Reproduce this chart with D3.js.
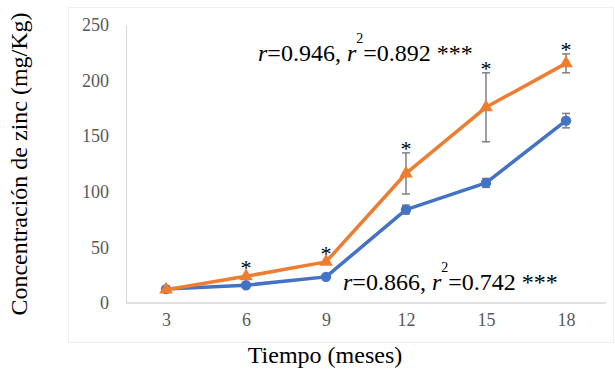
<!DOCTYPE html>
<html>
<head>
<meta charset="UTF-8">
<title>Concentración de zinc</title>
<style>
  body { margin: 0; background: #fff; }
</style>
</head>
<body>
<div id="chart"></div>
<script src="https://d3js.org/d3.v7.min.js"></script>
<script>
// meses
const months = [3, 6, 9, 12, 15, 18];
// serie azul (círculos)
const blueVals = [12.5, 16, 23.5, 84, 108, 164];
const blueErr = [0, 0, 0, 4, 4, 6.5];
// serie naranja (triángulos)
const orangeVals = [12, 24, 37, 116.5, 176, 215.5];
const orangeErr = [0, 0, 0, 18.5, 31, 8.5];
// asteriscos de significancia
const starred = [false, true, true, true, true, true];
const yTicks = [0, 50, 100, 150, 200, 250];

const FONT = '"Liberation Serif", "Times New Roman", Tinos';
const W = 615, H = 374;
const svg = d3.select("#chart").append("svg")
  .attr("width", W).attr("height", H)
  .style("font-family", FONT);

// marco del gráfico
svg.append("rect")
  .attr("x", 68.5).attr("y", 7.5).attr("width", 545).attr("height", 335)
  .attr("fill", "none").attr("stroke", "#efefef");

const plotL = 126, plotR = 606, plotT = 25, plotB = 303;
const x = d3.scalePoint().domain(months).range([plotL, plotR]).padding(0.5);
const y = d3.scaleLinear().domain([0, 250]).range([plotB, plotT]);

// ejes
const yAxis = svg.append("g").attr("transform", `translate(${plotL},0)`)
  .call(d3.axisLeft(y).tickValues(yTicks).tickSize(0).tickPadding(17));
yAxis.select(".domain").attr("stroke", "#d9d9d9");

const xAxis = svg.append("g").attr("transform", `translate(0,${plotB})`)
  .call(d3.axisBottom(x).tickSize(0).tickPadding(10));
xAxis.select(".domain").attr("stroke", "#d9d9d9").attr("stroke-width", 1.5)
  .attr("d", `M${plotL},0H${plotR}`);
svg.selectAll(".tick text")
  .style("font-family", FONT).attr("font-size", 18).attr("fill", "#595959");

// títulos
svg.append("text")
  .attr("x", 325).attr("y", 363)
  .attr("text-anchor", "middle").attr("font-size", 24).attr("fill", "#000")
  .style("font-family", FONT)
  .text("Tiempo (meses)");
svg.append("text")
  .attr("transform", "translate(27,164) rotate(-90)")
  .attr("text-anchor", "middle").attr("font-size", 24).attr("fill", "#000")
  .style("font-family", FONT)
  .text("Concentración de zinc (mg/Kg)");

function series(vals, errs, color, shape) {
  const g = svg.append("g");
  // barras de error
  months.forEach((m, i) => {
    if (!errs[i]) return;
    const cx = x(m), y1 = y(vals[i] + errs[i]), y2 = y(vals[i] - errs[i]);
    g.append("line").attr("x1", cx).attr("x2", cx).attr("y1", y1).attr("y2", y2)
      .attr("stroke", "#7f7f7f").attr("stroke-width", 1.5);
    [y1, y2].forEach(yy => g.append("line")
      .attr("x1", cx - 4).attr("x2", cx + 4).attr("y1", yy).attr("y2", yy)
      .attr("stroke", "#7f7f7f").attr("stroke-width", 1.5));
  });
  g.append("path")
    .datum(vals)
    .attr("fill", "none").attr("stroke", color).attr("stroke-width", 3.5)
    .attr("stroke-linejoin", "round")
    .attr("d", d3.line().x((d, i) => x(months[i])).y(d => y(d)));
  g.selectAll(".pt").data(vals).enter().append("path")
    .attr("transform", (d, i) => `translate(${x(months[i])},${y(d)})`)
    .attr("d", d3.symbol().type(shape).size(shape === d3.symbolCircle ? 85 : 80))
    .attr("fill", color);
}

series(blueVals, blueErr, "#4472c4", d3.symbolCircle);
series(orangeVals, orangeErr, "#ed7d31", d3.symbolTriangle);

// asteriscos
months.forEach((m, i) => {
  if (!starred[i]) return;
  const topVal = orangeVals[i] + orangeErr[i];
  const yy = orangeErr[i] ? y(topVal) + 3 : y(topVal) - 1;
  svg.append("text")
    .attr("x", x(m)).attr("y", yy)
    .attr("text-anchor", "middle").attr("font-size", 22).attr("fill", "#000")
    .style("font-family", FONT)
    .text("*");
});

// anotaciones de correlación
function annot(xp, yp, r, r2) {
  const t = svg.append("text").attr("x", xp).attr("y", yp)
    .attr("font-size", 24).attr("fill", "#000")
    .style("font-family", FONT);
  t.append("tspan").attr("font-style", "italic").text("r");
  t.append("tspan").text(`=${r}, `);
  t.append("tspan").attr("font-style", "italic").text("r");
  t.append("tspan").attr("font-size", 14).attr("dy", -18).text("2");
  t.append("tspan").attr("dy", 18).text(`=${r2} ***`);
}
annot(258, 61, "0.946", "0.892");
annot(343, 290, "0.866", "0.742");
</script>
</body>
</html>
